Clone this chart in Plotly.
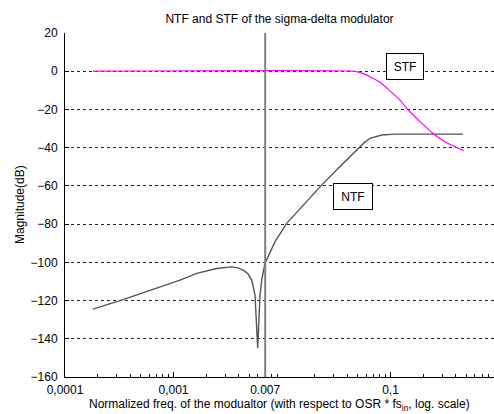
import plotly.graph_objects as go

# ---- data ----
ntf_f = [1.80e-4, 3.21e-4, 1.148e-3, 1.637e-3, 2.50e-3, 2.985e-3, 3.44e-3, 3.93e-3,
         4.38e-3, 4.86e-3, 5.26e-3, 5.64e-3, 5.85e-3, 5.97e-3, 6.27e-3, 6.50e-3,
         6.97e-3, 7.43e-3, 8.61e-3, 1.104e-2, 1.63e-2, 2.32e-2, 3.30e-2, 5.05e-2,
         5.70e-2, 6.47e-2, 7.34e-2, 8.30e-2, 0.110, 0.466]
ntf_db = [-124.5, -120.0, -109.3, -105.8, -103.2, -102.6, -102.4, -102.9,
          -104.1, -106.0, -109.3, -117.2, -131.2, -144.9, -117.2, -109.3,
          -100.5, -97.1, -89.3, -79.6, -69.2, -59.6, -50.8, -40.4,
          -37.5, -35.1, -34.1, -33.4, -32.9, -32.9]

stf_f = [1.80e-4, 0.0454, 0.0546, 0.0647, 0.080, 0.0989, 0.1225, 0.146, 0.187,
         0.257, 0.318, 0.393, 0.475]
stf_db = [0.0, 0.0, -1.0, -2.9, -5.8, -10.3, -15.1, -20.3, -26.4,
          -33.4, -36.9, -39.5, -41.6]

fs_marker = 0.007
x_tickvals = [1e-4, 1e-3, 0.007, 0.1]
x_ticktext = ["0,0001", "0,001", "0.007", "0,1"]
y_tickvals = [20, 0, -20, -40, -60, -80, -100, -120, -140, -160]

minor_vals = [m * 10.0 ** e for e in range(-4, 0) for m in range(2, 10)]

FONT = "Liberation Sans, Arial, sans-serif"

fig = go.Figure()
fig.add_trace(go.Scatter(x=ntf_f, y=ntf_db, mode="lines",
                         line=dict(color="#555555", width=1.4), showlegend=False))
fig.add_trace(go.Scatter(x=stf_f, y=stf_db, mode="lines",
                         line=dict(color="#ff00ff", width=1.2, shape="spline",
                                   smoothing=0.5), showlegend=False))

fig.add_shape(type="line", xref="x", yref="paper", x0=fs_marker, x1=fs_marker,
              y0=0, y1=1, line=dict(color="#7f7f7f", width=2))

fig.update_layout(
    width=494, height=414,
    margin=dict(l=65, r=0, t=33, b=37),
    paper_bgcolor="white", plot_bgcolor="white",
    font=dict(family=FONT, size=12, color="black"),
    title=dict(text="NTF and STF of the sigma-delta modulator",
               x=(65 + 494) / 2 / 494, xanchor="center",
               y=1 - 19 / 414, yanchor="middle", yref="container",
               font=dict(size=12, family=FONT)),
    xaxis=dict(type="log", range=[-4, -0.046],
               tickmode="array", tickvals=x_tickvals, ticktext=x_ticktext,
               ticks="inside", ticklen=5, tickcolor="black", tickwidth=1,
               minor=dict(tickmode="array", tickvals=minor_vals, ticks="inside",
                          ticklen=3, tickcolor="black", showgrid=False),
               showgrid=False, zeroline=False,
               showline=True, linecolor="black", linewidth=1,
               tickfont=dict(size=12), ticklabelstandoff=2),
    yaxis=dict(range=[-160, 20], tickmode="array", tickvals=y_tickvals,
               ticks="inside", ticklen=4, tickcolor="black",
               showgrid=True, gridcolor="#222222", griddash="3px,3px", gridwidth=1,
               zeroline=False, showline=True, linecolor="black", linewidth=1,
               tickfont=dict(size=12), ticklabelstandoff=4),
    annotations=[
        dict(text="Normalized freq. of the modualtor (with respect to OSR * fs<sub>in</sub>, log. scale)",
             xref="paper", yref="paper", x=0.5, y=-28 / 344, xanchor="center",
             yanchor="middle", showarrow=False, font=dict(size=12)),
        dict(text="Magnitude(dB)", xref="paper", yref="paper",
             x=-45 / 429, y=0.5, textangle=-90, xanchor="center", yanchor="middle",
             showarrow=False, font=dict(size=12)),
        dict(text="STF", xref="x", yref="y", x=-0.866, y=2.7, showarrow=False,
             bordercolor="black", borderwidth=1, bgcolor="white",
             width=34, height=23, borderpad=1, font=dict(size=12)),
        dict(text="NTF", xref="x", yref="y", x=-1.350, y=-65.3, showarrow=False,
             bordercolor="black", borderwidth=1, bgcolor="white",
             width=36, height=23, borderpad=1, font=dict(size=12)),
    ],
)

fig.write_html("out.html")
